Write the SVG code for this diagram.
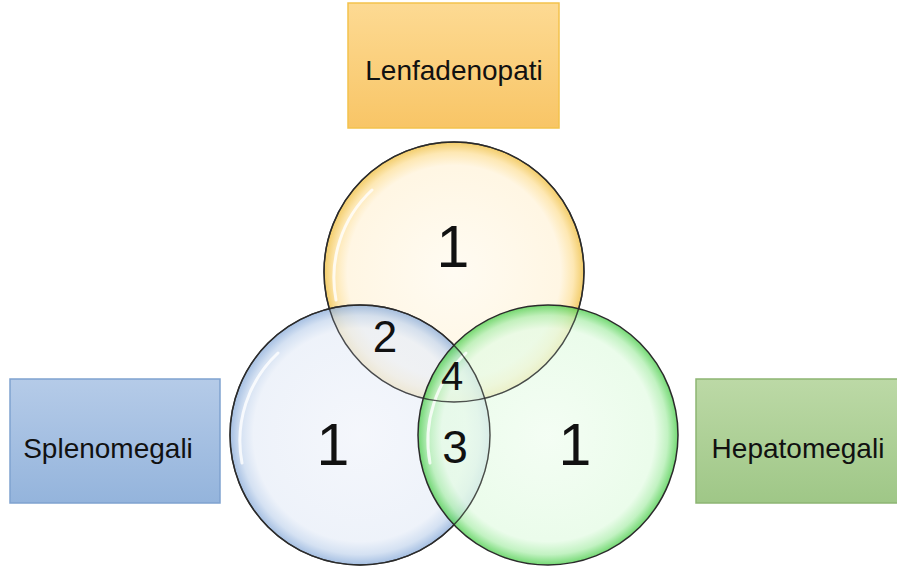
<svg xmlns="http://www.w3.org/2000/svg" width="897" height="568" viewBox="0 0 897 568">
<defs>
<linearGradient id="gY" x1="0" y1="0" x2="0" y2="1"><stop offset="0" stop-color="#fdda93"/><stop offset="1" stop-color="#f8c566"/></linearGradient>
<linearGradient id="gB" x1="0" y1="0" x2="0" y2="1"><stop offset="0" stop-color="#b5cbe8"/><stop offset="1" stop-color="#94b4dc"/></linearGradient>
<linearGradient id="gG" x1="0" y1="0" x2="0" y2="1"><stop offset="0" stop-color="#bcd9a6"/><stop offset="1" stop-color="#9fc787"/></linearGradient>
<radialGradient id="rY" cx="0.5" cy="0.5" r="0.5"><stop offset="0" stop-color="#fffaee"/><stop offset="0.82" stop-color="#fff3da"/><stop offset="0.92" stop-color="#fde09a"/><stop offset="1" stop-color="#eebb36"/></radialGradient>
<radialGradient id="rB" cx="0.5" cy="0.5" r="0.5"><stop offset="0" stop-color="#f1f4fb"/><stop offset="0.82" stop-color="#e8eef8"/><stop offset="0.92" stop-color="#c6d7ee"/><stop offset="1" stop-color="#86a9d8"/></radialGradient>
<radialGradient id="rG" cx="0.5" cy="0.5" r="0.5"><stop offset="0" stop-color="#f0fdf0"/><stop offset="0.82" stop-color="#e4fbe4"/><stop offset="0.92" stop-color="#aeeeae"/><stop offset="1" stop-color="#45cc45"/></radialGradient>
</defs>
<style>
.lbl{font-family:"Liberation Sans",Arial,sans-serif;font-size:28px;fill:#111;text-anchor:middle}
.num{font-family:"Liberation Sans",Arial,sans-serif;fill:#111;text-anchor:middle}
.circ{stroke:#2b2b2b;stroke-width:1.5;fill-opacity:0.75}
.ring{fill:none;stroke:#2b2b2b;stroke-width:1.3;stroke-opacity:0.8}
.hl{fill:none;stroke:#ffffff;stroke-width:3;stroke-opacity:0.8;stroke-linecap:round}
</style>
<g id="box-lenfadenopati">
<rect x="348" y="3" width="211" height="125" fill="url(#gY)" stroke="#f3c24c" stroke-width="1.5"/>
<text class="lbl" x="454" y="80">Lenfadenopati</text>
</g>
<g id="box-splenomegali">
<rect x="10" y="379" width="210" height="124" fill="url(#gB)" stroke="#7fa2cf" stroke-width="1.5"/>
<text class="lbl" x="108" y="458">Splenomegali</text>
</g>
<g id="box-hepatomegali">
<rect x="696" y="379" width="205" height="124" fill="url(#gG)" stroke="#8db573" stroke-width="1.5"/>
<text class="lbl" x="798" y="458">Hepatomegali</text>
</g>
<g id="circle-lenfadenopati">
<circle class="circ" cx="454" cy="272" r="130" fill="url(#rY)"/>
<path class="hl" d="M336 300 A120 120 0 0 1 372 190"/>
</g>
<g id="circle-splenomegali">
<circle class="circ" cx="360" cy="435" r="130" fill="url(#rB)"/>
<path class="hl" d="M242 463 A120 120 0 0 1 278 353"/>
</g>
<g id="circle-hepatomegali">
<circle class="circ" cx="548" cy="435" r="130" fill="url(#rG)"/>
<path class="hl" d="M430 463 A120 120 0 0 1 466 353"/>
</g>
<g id="outlines">
<circle class="ring" cx="454" cy="272" r="130"/>
<circle class="ring" cx="360" cy="435" r="130"/>
</g>
<g id="counts">
<text class="num" x="453" y="267" font-size="59">1</text>
<text class="num" x="333" y="465" font-size="59">1</text>
<text class="num" x="575" y="465" font-size="59">1</text>
<text class="num" x="385" y="352" font-size="44">2</text>
<text class="num" x="452" y="390" font-size="40">4</text>
<text class="num" x="455" y="463" font-size="46">3</text>
</g>
</svg>
